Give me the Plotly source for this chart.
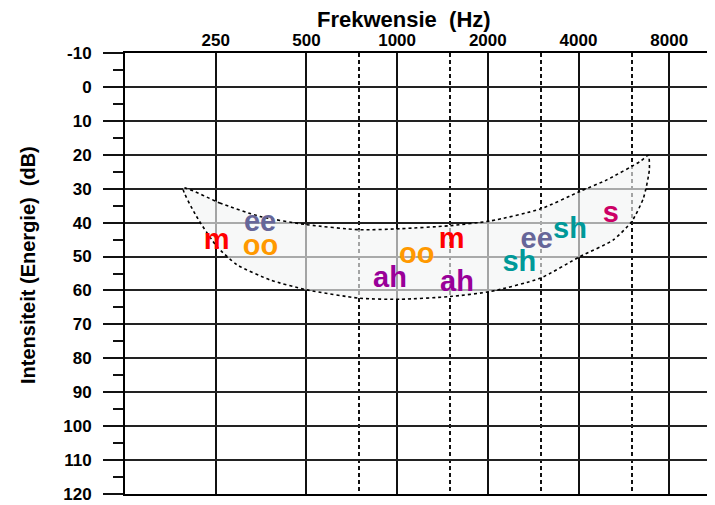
import plotly.graph_objects as go

# ---- data ----
freq_tick_values = [250, 500, 1000, 2000, 4000, 8000]
freq_tick_labels = ["250", "500", "1000", "2000", "4000", "8000"]
freq_half_octaves = [750, 1500, 3000, 6000]

db_ticks = list(range(-10, 121, 10))
db_tick_labels = [str(v) for v in db_ticks]

# speech banana boundary (Hz, dB)
banana_upper_hz = [195, 258, 351, 501, 753, 1023, 1498, 2040, 2982, 4048, 4962, 6400, 6818]
banana_upper_db = [29.8, 34.2, 38.2, 40.6, 42.1, 41.8, 40.9, 39.5, 36.0, 30.8, 27.4, 22.0, 20.2]
banana_lower_hz = [216, 252, 294, 379, 501, 753, 1023, 1498, 2040, 2982, 4048, 5219, 6003, 6568, 6873]
banana_lower_db = [38.2, 47.0, 52.4, 56.9, 59.8, 62.3, 62.6, 61.8, 60.3, 56.4, 50.0, 45.1, 39.7, 32.8, 24.4]

# speech sounds
sound_labels = ["m", "ee", "oo", "oo", "ah", "m", "ah", "ee", "sh", "sh", "s"]
sound_hz = [252, 351, 352, 1161, 947, 1518, 1580, 2906, 3748, 2544, 5116]
sound_db = [45.7, 40.3, 47.4, 49.8, 56.8, 45.2, 58.1, 45.2, 42.4, 52.2, 37.8]
sound_colors = ["#ff0000", "#666699", "#ff9900", "#ff9900", "#990099", "#ff0000",
                "#990099", "#666699", "#009999", "#009999", "#cc0066"]

FONT = "Liberation Sans, Arial, sans-serif"

fig = go.Figure()

poly_x = banana_upper_hz + banana_lower_hz[::-1] + [banana_upper_hz[0]]
poly_y = banana_upper_db + banana_lower_db[::-1] + [banana_upper_db[0]]
fig.add_trace(go.Scatter(
    x=poly_x, y=poly_y, mode="lines", fill="toself",
    fillcolor="rgba(242,245,245,0.65)",
    line=dict(color="black", width=1.6, dash="dot", shape="spline", smoothing=0.6),
    hoverinfo="skip", showlegend=False,
))

fig.add_trace(go.Scatter(
    x=sound_hz, y=sound_db, mode="text", text=sound_labels,
    textposition="middle center",
    textfont=dict(family=FONT, size=29, color=sound_colors, weight="bold"),
    showlegend=False,
))

# page body adds an 8px offset, so the figure is 8px smaller than the window
fig.update_layout(
    width=707, height=497,
    margin=dict(l=117, r=0, t=45, b=11, autoexpand=False),
    paper_bgcolor="white", plot_bgcolor="white",
    showlegend=False,
    xaxis=dict(
        type="log", side="top", automargin=False,
        range=[2.0969, 4.0550],
        tickmode="array", tickvals=freq_tick_values, ticktext=freq_tick_labels,
        ticks="", ticklabelstandoff=-2,
        tickfont=dict(family=FONT, size=17, color="black", weight="bold"),
        showgrid=True, gridcolor="#111", gridwidth=2,
        minor=dict(tickmode="array", tickvals=freq_half_octaves, showgrid=True,
                   gridcolor="#111", gridwidth=1.5, griddash="4px,3px", ticks=""),
        showline=True, linecolor="black", linewidth=2, mirror=True,
        zeroline=False, fixedrange=True,
    ),
    yaxis=dict(
        range=[120, -10], automargin=False,
        tickmode="array", tickvals=db_ticks, ticktext=db_tick_labels,
        ticks="outside", ticklen=20, tickwidth=1.5, tickcolor="#111",
        ticklabelstandoff=8,
        tickfont=dict(family=FONT, size=17, color="black", weight="bold"),
        showgrid=True, gridcolor="#222", gridwidth=1.6,
        minor=dict(tickmode="linear", tick0=-5, dtick=10, ticks="outside",
                   ticklen=10, tickwidth=1.5, tickcolor="#111", showgrid=False),
        showline=True, linecolor="black", linewidth=2, mirror=False,
        zeroline=False, fixedrange=True,
    ),
    annotations=[
        dict(text="Frekwensie&nbsp;&nbsp;(Hz)", xref="paper", yref="paper",
             x=(404 - 125) / 590, y=1, yshift=34, xanchor="center", yanchor="middle",
             showarrow=False,
             font=dict(family=FONT, size=22, color="black", weight="bold")),
        dict(text="Intensiteit (Energie)&nbsp;&nbsp;(dB)", xref="paper", yref="paper",
             x=0, xshift=-97, y=(494 - 265) / 441, xanchor="center", yanchor="middle",
             textangle=-90, showarrow=False,
             font=dict(family="Liberation Sans Narrow, Arial Narrow, Liberation Sans, Arial",
                       size=20, color="black", weight="bold")),
    ],
)

fig.write_html("out.html")
